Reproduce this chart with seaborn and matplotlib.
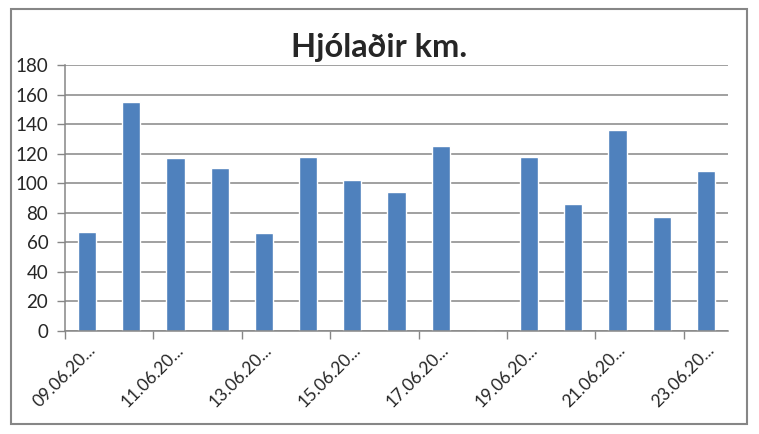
import matplotlib
matplotlib.use("Agg")
from matplotlib import pyplot as plt
from matplotlib.patches import Rectangle
import numpy as np
import pandas as pd
import seaborn as sns

# daily km, 18.06 had no ride
dates = ['09.06.20', '10.06.20', '11.06.20', '12.06.20', '13.06.20',
         '14.06.20', '15.06.20', '16.06.20', '17.06.20', '18.06.20',
         '19.06.20', '20.06.20', '21.06.20', '22.06.20', '23.06.20']
km = [67, 155, 117, 110, 66, 118, 102, 94, 125, 0, 118, 86, 136, 77, 108]
yticks = [0, 20, 40, 60, 80, 100, 120, 140, 160, 180]

bar_color = '#4F81BD'
grid_color = '#868686'

sns.set_theme(style='white')
plt.rcParams['font.family'] = ['Lato', 'DejaVu Sans']

df = pd.DataFrame({'dags': dates, 'km': km})

fig = plt.figure(figsize=(7.59, 4.34), dpi=100)
ax = fig.add_axes([65 / 759, 1 - 331 / 434, 663 / 759, 266 / 434])

sns.barplot(data=df, x='dags', y='km', color=bar_color, width=0.41,
            saturation=1, ax=ax)

ax.set_xlim(-0.5, len(dates) - 0.5)
ax.set_ylim(0, 180)
ax.set_yticks(yticks)
ax.set_yticklabels([str(v) for v in yticks], fontsize=13.5)
ax.yaxis.grid(True, color=grid_color, linewidth=1.1)
ax.set_axisbelow(True)

# major ticks on category boundaries, labels on every other category
ax.set_xticks(np.arange(-0.5, len(dates) - 1, 2))
ax.set_xticklabels([])
ax.set_xticks(np.arange(0, len(dates), 2), minor=True)
ax.set_xticklabels([d + '...' for d in dates[::2]], minor=True,
                   rotation=45, ha='right', rotation_mode='anchor',
                   fontsize=12.5)
ax.tick_params(axis='x', which='major', direction='out', length=6,
               width=1, color=grid_color, bottom=True)
ax.tick_params(axis='x', which='minor', length=0, pad=8, bottom=True)
ax.tick_params(axis='y', direction='out', length=6, width=1,
               color=grid_color, left=True, pad=6)

ax.set_xlabel('')
ax.set_ylabel('')
for side in ['top', 'right']:
    ax.spines[side].set_visible(False)
for side in ['left', 'bottom']:
    ax.spines[side].set_color(grid_color)
    ax.spines[side].set_linewidth(1.1)

fig.text(0.5, 1 - 47 / 434, 'Hjólaðir km.', ha='center', va='center',
         fontsize=23.5, fontweight='bold')

# chart frame
fig.patches.append(Rectangle((11 / 759, 1 - 424 / 434), 736 / 759, 415 / 434,
                             transform=fig.transFigure, fill=False,
                             edgecolor='#868686', linewidth=1.5))

fig.savefig('out.png', dpi=100)
